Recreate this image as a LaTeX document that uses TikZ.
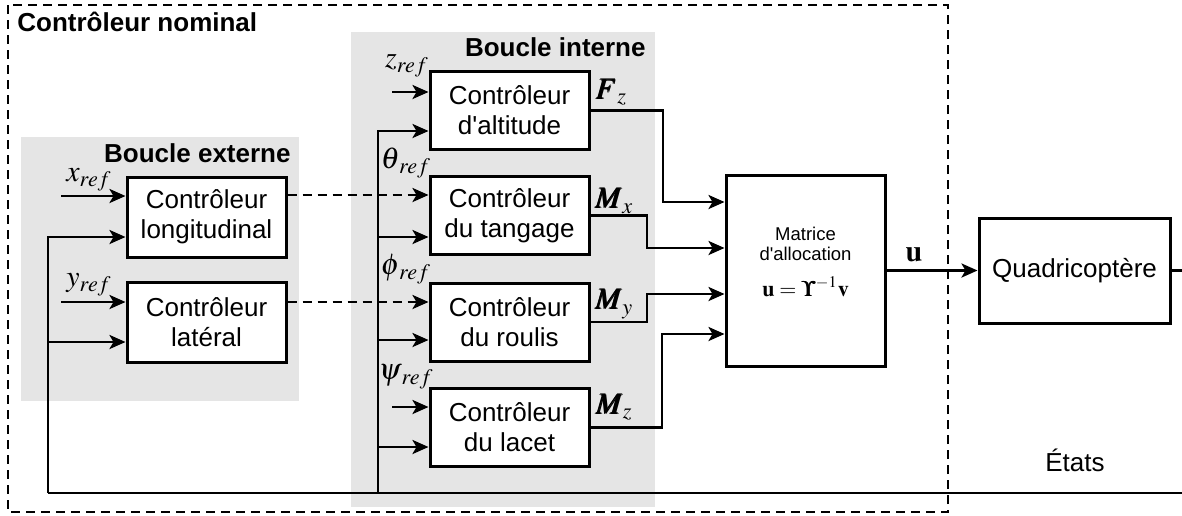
\documentclass[tikz,border=0pt]{standalone}
\usepackage{amsmath}
\usepackage{mathptmx}
\usepackage{bm}
\usepackage[no-math]{fontspec}
\setmainfont{Liberation Sans}
\usetikzlibrary{arrows.meta}
\definecolor{zone}{RGB}{229,229,229}
\newcommand{\apos}{\textquotesingle}
\begin{document}
\begin{tikzpicture}[x=0.5pt,y=-0.5pt,
  blk/.style={draw, line width=1.5pt, fill=white, align=center, inner sep=0pt,
    minimum width=79.5pt, minimum height=39pt, font=\fontsize{13}{15}\selectfont},
  wire/.style={line width=1.4pt},
  arr/.style={wire, -{Stealth[length=8pt,width=7pt,inset=2pt]}},
  darr/.style={arr, dash pattern=on 4.5pt off 3pt},
  title/.style={font=\fontsize{13}{15}\selectfont\bfseries, inner sep=0pt},
  sym/.style={font=\fontsize{15}{17}\selectfont, inner sep=0pt},
  txt/.style={font=\fontsize{13}{15}\selectfont, inner sep=0pt}]
\useasboundingbox (0,0) rectangle (1182,515);

% shaded loop areas
\fill[zone] (21,137) rectangle (299,401);
\fill[zone] (351,32) rectangle (655,507);

% nominal controller frame
\draw[line width=1.4pt, dash pattern=on 4.5pt off 3pt] (8,5) rectangle (948,512);
\node[title, anchor=west] (tnom) at (17,22) {Contrôleur nominal};
\node[title, anchor=east] (text) at (291,153) {Boucle externe};
\node[title, anchor=east] (tint) at (646,47) {Boucle interne};

% controller blocks
\node[blk, minimum height=40pt] (lon) at (206.5,217) {Contrôleur\\longitudinal};
\node[blk, minimum height=40pt] (lat) at (206.5,322) {Contrôleur\\latéral};
\node[blk] (alt) at (509.5,110.5) {Contrôleur\\d\apos altitude};
\node[blk] (tan) at (509.5,215.5) {Contrôleur\\du tangage};
\node[blk] (rou) at (509.5,322) {Contrôleur\\du roulis};
\node[blk] (lac) at (509.5,427.5) {Contrôleur\\du lacet};
\node[blk, minimum height=95.5pt] (mat) at (805.5,270.5) {};
\node[align=center, inner sep=0pt, font=\fontsize{9.25}{10}\selectfont] (matlbl) at (805.5,262)
  {Matrice\\d\apos allocation\\[7pt]{\fontsize{11}{12}\selectfont$\mathbf{u}=\bm{\Upsilon}^{-1}\mathbf{v}$}};
\node[blk, minimum width=95.5pt, minimum height=52.5pt] (quad) at (1074.5,270.5) {Quadricoptère};

% reference inputs
\coordinate (xin) at (61,196);
\coordinate (yin) at (61,302);
\coordinate (zin) at (392,92);
\coordinate (psin) at (392,407);
\draw[arr] (xin) -- (xin -| lon.west);
\draw[arr] (yin) -- (yin -| lat.west);
\draw[arr] (zin) -- (zin -| alt.west);
\draw[arr] (psin) -- (psin -| lac.west);
\node[sym] (lx) at (89,180) {$x_{ref}$};
\node[sym] (ly) at (89,285) {$y_{ref}$};
\node[sym] (lz) at (407,66) {$z_{ref}$};
\node[sym] (lth) at (406,163) {$\theta_{\mkern2mu ref}$};
\node[sym] (lph) at (406,269) {$\phi_{\mkern2mu ref}$};
\node[sym] (lps) at (406,377) {$\psi_{\mkern2mu ref}$};

% outer loop references to inner loop
\draw[darr] (lon.east |- 0,195) -- (tan.west |- 0,195);
\draw[darr] (lat.east |- 0,302) -- (rou.west |- 0,302);

% state feedback
\coordinate (fbr) at (1182,493);
\coordinate (fbo) at (48,493);
\coordinate (fbi) at (378,493);
\draw[wire] (fbr) -- (fbo);
\draw[arr] (fbo) -- (48,237) -- (lon.west |- 0,237);
\draw[arr] (48,342) -- (lat.west |- 0,342);
\draw[arr] (fbi) -- (378,131) -- (alt.west |- 0,131);
\draw[arr] (378,237) -- (tan.west |- 0,237);
\draw[arr] (378,340) -- (rou.west |- 0,340);
\draw[arr] (378,447) -- (lac.west |- 0,447);
\node[txt] (etats) at (1075,460) {États};

% controller outputs to allocation
\draw[arr] (alt.east) -| (663,202) -- (mat.west |- 0,202);
\draw[arr] (tan.east) -| (647,248) -- (mat.west |- 0,248);
\draw[arr] (rou.east) -| (647,294) -- (mat.west |- 0,294);
\draw[arr] (lac.east) -| (662,334) -- (mat.west |- 0,334);
\node[sym] (lfz) at (611,92) {$\bm{F}_{z}$};
\node[sym] (lmx) at (614,201) {$\bm{M}_{x}$};
\node[sym] (lmy) at (614,304) {$\bm{M}_{y}$};
\node[sym] (lmz) at (614,407) {$\bm{M}_{z}$};

% allocation to vehicle
\draw[arr] (mat.east) -- (quad.west);
\coordinate (qout) at (1182,270.5);
\draw[wire] (quad.east) -- (qout);
\node[sym] (lu) at (914,255) {$\mathbf{u}$};
\end{tikzpicture}
\end{document}
